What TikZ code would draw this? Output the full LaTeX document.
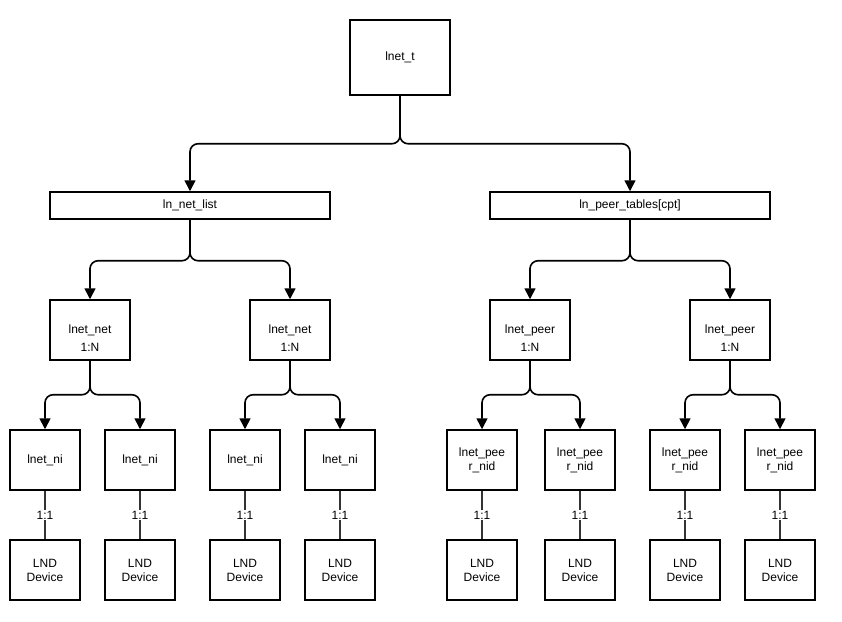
\documentclass[tikz,border=0pt]{standalone}
\usepackage{fontspec}
\setmainfont{Liberation Sans}
\usetikzlibrary{arrows.meta}
\tikzset{
  box/.style = {draw, line width = 1.5pt, fill = white, align = center, inner sep = 0pt,
    font = \fontsize{12}{14}\selectfont},
  arr/.style = {-{Triangle[width = 11pt, length = 11pt]}, line width = 1.6pt, rounded corners = 8pt},
  link/.style = {line width = 1.6pt, draw = black!80},
  rel/.style = {fill = white, inner sep = 1pt, font = \fontsize{12}{14}\selectfont}
}
\begin{document}
\begin{tikzpicture}[x = 1pt, y = -1pt]
  \useasboundingbox (0, 0) rectangle (842, 621);
  % top
  \node[box, minimum width = 100pt, minimum height = 75pt] (lnet) at (400, 57.5) {lnet\_t};
  \node[box, minimum width = 280pt, minimum height = 27pt] (netlist) at (190, 205.5) {ln\_net\_list};
  \node[box, minimum width = 280pt, minimum height = 27pt] (peertab) at (630, 205.5) {ln\_peer\_tables[cpt]};
  \draw[arr] (lnet.south) -- ++(0, 48) -| (netlist.north);
  \draw[arr] (lnet.south) -- ++(0, 48) -| (peertab.north);
  % middle
  \foreach \x/\n/\t/\p in {90/n1/lnet\_net/netlist, 290/n2/lnet\_net/netlist,
                           530/n3/lnet\_peer/peertab, 730/n4/lnet\_peer/peertab} {
    \node[box, minimum width = 80pt, minimum height = 60pt] (\n) at (\x, 330) {\t};
    \draw[arr] (\p.south) -- ++(0, 41) -| (\n.north);
  }
  % bottom
  \foreach \x/\n/\p/\t in {45/a1/n1/lnet\_ni, 140/a2/n1/lnet\_ni, 245/a3/n2/lnet\_ni, 340/a4/n2/lnet\_ni,
                           482/a5/n3/lnet\_pee\\r\_nid, 580/a6/n3/lnet\_pee\\r\_nid,
                           685/a7/n4/lnet\_pee\\r\_nid, 780/a8/n4/lnet\_pee\\r\_nid} {
    \node[box, minimum width = 70pt, minimum height = 60pt] (\n) at (\x, 460) {\t};
    \node[box, minimum width = 70pt, minimum height = 60pt] (d\n) at (\x, 570) {LND\\Device};
    \draw[arr] (\p.south) -- ++(0, 34) -| (\n.north);
    \draw[link] (\n.south) -- node[rel] {1:1} (d\n.north);
  }
  \foreach \n in {n1, n2, n3, n4}
    \node[rel] at ([yshift = 13pt]\n.south) {1:N};
\end{tikzpicture}
\end{document}
